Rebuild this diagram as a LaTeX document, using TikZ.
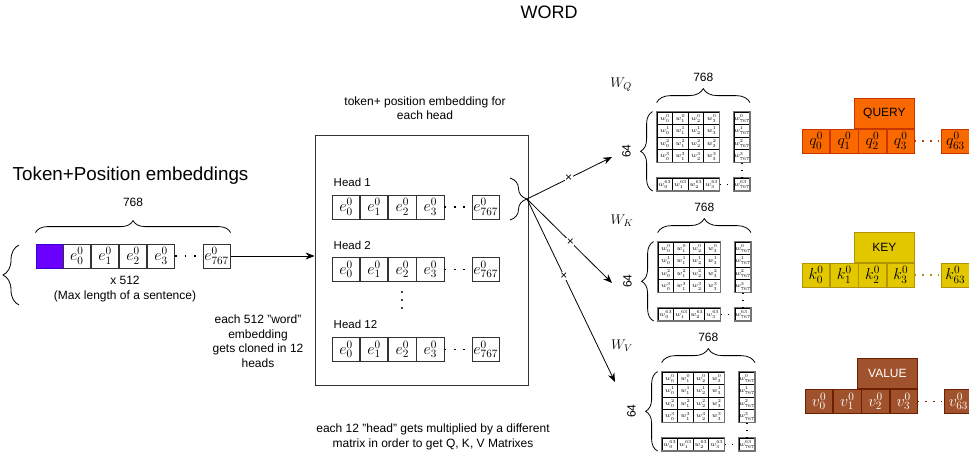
\RequirePackage{fix-cm}
\documentclass[tikz,border=0pt]{standalone}
\usepackage{fontspec}
\setmainfont{Liberation Sans}
\usetikzlibrary{positioning,arrows.meta,decorations.pathreplacing}

\definecolor{pfill}{HTML}{6A00FF}
\definecolor{pline}{HTML}{3700CC}
\definecolor{qfill}{HTML}{FA6800}
\definecolor{qline}{HTML}{C73500}
\definecolor{kfill}{HTML}{E3C800}
\definecolor{kline}{HTML}{B09500}
\definecolor{vfill}{HTML}{A0522D}
\definecolor{vline}{HTML}{6D1F00}

\tikzset{
  ecell/.style={draw=black!80, minimum width=27.3pt, minimum height=24pt, inner sep=0pt, font=\fontsize{16}{16}\selectfont},
  wcell/.style={draw=black, minimum width=15.6pt, minimum height=12.6pt, inner sep=0pt, font=\fontsize{6.5}{6.5}\selectfont},
  wframe/.style={draw=black!55, line width=1.1pt},
  vcell/.style={minimum width=27.4pt, minimum height=24pt, inner sep=0pt, font=\fontsize{16}{16}\selectfont},
  vlabel/.style={minimum width=60pt, minimum height=30pt, inner sep=0pt, font=\fontsize{12}{12}\selectfont},
  brc/.style={decorate, decoration={brace, amplitude=#1}},
  brc/.default=10pt,
  edots/.style={dash pattern=on 1.6pt off 7.9pt, line width=1.6pt},
  wdots/.style={dash pattern=on 1.5pt off 5.5pt, line width=1.5pt},
  vdots/.style={dash pattern=on 1.6pt off 6pt, line width=1.6pt},
  txt/.style={font=\fontsize{12}{14.5}\selectfont, align=center},
  headlbl/.style={font=\fontsize{11.5}{12}\selectfont, anchor=west},
  wlbl/.style={font=\fontsize{14}{14}\selectfont},
  cross/.style={fill=white, inner sep=0.6pt, font=\fontsize{12}{12}\selectfont},
  arr/.style={-{Stealth[length=9pt,width=7pt]}},
}

\newcommand{\erow}[3]{%
  \node[ecell, anchor=west] (#1-0) at (#2,#3) {$e^0_0$};
  \foreach \i [remember=\i as \j (initially 0)] in {1,2,3}
    \node[ecell, right=0pt of #1-\j] (#1-\i) {$e^0_{\i}$};
  \node[ecell, right=27.3pt of #1-3] (#1-l) {$e^0_{767}$};
  \draw[edots] (#1-3.east) -- (#1-l.west);
}

\newcommand{\wmat}[3]{%
  \foreach \r in {0,...,3}{
    \foreach \c in {0,...,3}
      \node[wcell] (#1-\r\c) at ({#2+7.8+\c*15.6},{#3+6.3+\r*12.6}) {$w^{\r}_{\c}$};
    \node[wcell] (#1-\r9) at ({#2+84.8},{#3+6.3+\r*12.6}) {$w^{\r}_{767}$};
  }
  \foreach \c in {0,...,3}
    \node[wcell] (#1-9\c) at ({#2+7.8+\c*15.6},{#3+72.3}) {$w^{63}_{\c}$};
  \node[wcell] (#1-99) at ({#2+84.8},{#3+72.3}) {$w^{63}_{767}$};
  \draw[wframe] (#1-00.north west) rectangle (#1-33.south east);
  \draw[wframe] (#1-09.north west) rectangle (#1-39.south east);
  \draw[wframe] (#1-90.north west) rectangle (#1-93.south east);
  \draw[wframe] (#1-99.north west) rectangle (#1-99.south east);
  \draw[wdots] (#1-93.east) -- (#1-99.west);
  \draw[wdots] (#1-39.south) -- (#1-99.north);
  \draw[brc=14pt] ([yshift=9pt]#1-00.north west) -- ([yshift=9pt]#1-09.north east)
    node[midway, above=17pt, txt] {768};
  \draw[brc=12pt] ([xshift=-4pt]#1-90.south west) -- ([xshift=-4pt]#1-00.north west)
    node[midway, xshift=-26pt, rotate=90, txt] {64};
}

\newcommand{\vrow}[7]{%
  \node[vcell, fill=#5fill, draw=#5line, text=#7, anchor=west] (#1-0) at (#2,#3) {$#4^0_0$};
  \foreach \i [remember=\i as \j (initially 0)] in {1,2,3}
    \node[vcell, fill=#5fill, draw=#5line, text=#7, right=0pt of #1-\j] (#1-\i) {$#4^0_{\i}$};
  \node[vcell, fill=#5fill, draw=#5line, text=#7, right=26.5pt of #1-3] (#1-l) {$#4^0_{63}$};
  \node[vlabel, fill=#5fill, draw=#5line, text=#7, anchor=south east] (#1-t) at (#1-3.north east) {#6};
  \draw[vdots, #5line] (#1-3.east) -- (#1-l.west);
}

\begin{document}
\begin{tikzpicture}[x=1pt, y=-1pt, line width=0.8pt]
  \useasboundingbox (0,0) rectangle (969,466);

  \node[font=\fontsize{18}{18}\selectfont] (title) at (549,12) {WORD};
  \node[font=\fontsize{18.8}{18.8}\selectfont, anchor=west] (tpe) at (9,176) {Token+Position embeddings};

  \node[ecell, fill=pfill, draw=pline, anchor=west] (pur) at (35.5,256) {};
  \erow{in}{62.8}{256}
  \draw[brc=12pt] ([yshift=11pt]pur.north west) -- ([yshift=11pt]in-l.north east)
    node[midway, above=22pt, txt] {768};
  \node[txt] (maxlen) at (125,289) {x 512\\(Max length of a sentence)};
  \draw[brc=16pt] (19,305) -- (19,245);

  \node[draw=black!80, minimum width=213pt, minimum height=250pt, inner sep=0pt] (box) at (421.5,260) {};
  \draw[arr] (in-l.east) -- (in-l.east -| box.west);
  \node[txt] (cap) at (425,108) {token+ position embedding for\\each head};

  \node[headlbl] (h1) at (330,182) {Head 1};
  \erow{r1}{332}{207}
  \node[headlbl] (h2) at (330,245) {Head 2};
  \erow{r2}{332}{269.5}
  \foreach \y in {292,300,308}
    \fill (402,\y) circle (1.1pt);
  \node[headlbl] (h12) at (330,324) {Head 12};
  \erow{r12}{332}{349.5}
  \draw[brc=17pt] (510,178) -- (510,220);
  \coordinate (btip) at (527,199);

  \node[txt] (note1) at (258,341) {each 512 "word"\\embedding\\gets cloned in 12\\heads};
  \node[txt] (note2) at (433,437) {each 12 "head" gets multiplied by a different\\matrix in order to get Q, K, V Matrixes};

  \coordinate (qin) at (612,157);
  \coordinate (kin) at (612,283);
  \coordinate (vin) at (615,382);
  \draw[arr] (btip) -- (qin) node[cross, pos=.49] {×};
  \draw[arr] (btip) -- (kin) node[cross, pos=.51] {×};
  \draw[arr] (btip) -- (vin) node[cross, pos=.42] {×};

  \node[wlbl] (wq) at (621,85) {$W_Q$};
  \node[wlbl] (wk) at (622,221) {$W_K$};
  \node[wlbl] (wv) at (622,346) {$W_V$};
  \wmat{mq}{657}{112}
  \wmat{mk}{658}{242}
  \wmat{mv}{662}{372}

  \vrow{qv}{802}{141}{q}{q}{QUERY}{black}
  \vrow{kv}{802}{275}{k}{k}{KEY}{black}
  \vrow{vv}{805}{401.5}{v}{v}{VALUE}{white}
\end{tikzpicture}
\end{document}
